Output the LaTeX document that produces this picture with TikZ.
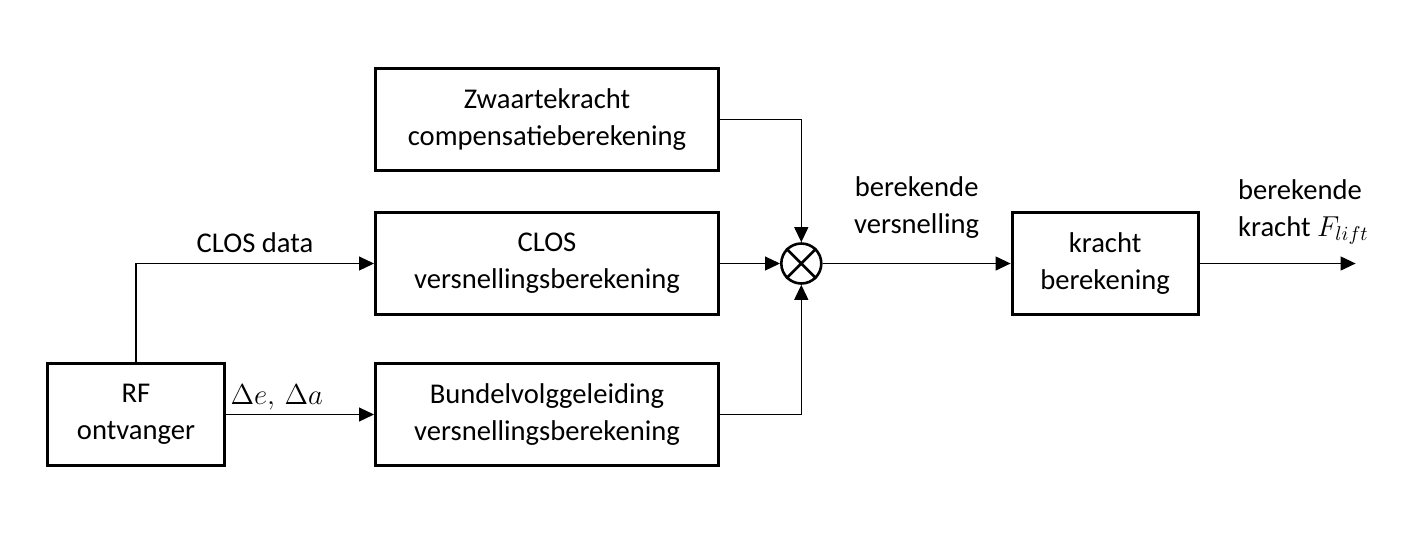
\documentclass[tikz,border=0pt]{standalone}
\usepackage{amsmath}
\usepackage{fontspec}
\setmainfont{Carlito}
\usepackage{tikz}
\usetikzlibrary{arrows.meta,positioning}

\tikzset{
	blok/.style={draw,line width=1.5pt,minimum width=171.5pt,minimum height=51pt,align=center},
	som/.style={draw,circle,line width=1.3pt,minimum size=20pt,inner sep=0pt},
	lijn/.style={-{Triangle[length=7.5pt,width=7pt]},line width=0.6pt}
}

\begin{document}
\begin{tikzpicture}[x=0.5pt,y=-0.5pt,font=\fontsize{14.3pt}{18.5pt}\selectfont]
\useasboundingbox (0,0) rectangle (1409,548);
\node	[blok]	(clos)	at (547,263.5)	{CLOS\\versnellingsberekening};
\node	[blok]	(zw)	[above=19.5pt of clos]	{Zwaartekracht\\compensatieberekening};
\node	[blok]	(bundel)	[below=23pt of clos]	{Bundelvolggeleiding\\versnellingsberekening};
\node	[blok,minimum width=88.5pt]	(rf)	[left=74pt of bundel]	{RF\\ontvanger};
\node	[som]	(sum)	[right=30pt of clos]	{};
\node	[blok,minimum width=93pt]	(kracht)	[right=94pt of sum]	{kracht\\berekening};
\coordinate	[right=78pt of kracht.east]	(uit);

% kruis in de sommator
\draw	[line width=1.3pt]	(sum.north west) -- (sum.south east)
	(sum.north east) -- (sum.south west);

\draw	[lijn]	(rf.north) |- node	[pos=0.75,above=2pt]	{CLOS data}	(clos.west);
\draw	[lijn]	(rf.east) -- node	[pos=0,above right,inner sep=2pt]	{$\Delta e,\,\Delta a$}	(bundel.west);
\draw	[lijn]	(zw.east) -| (sum.north);
\draw	[lijn]	(clos.east) -- (sum.west);
\draw	[lijn]	(bundel.east) -| (sum.south);
\draw	[lijn]	(sum.east) -- node	[above=9pt,align=center]	{berekende\\versnelling}	(kracht.west);
\draw	[lijn]	(kracht.east) -- node	[pos=0.2,anchor=south west,yshift=6pt,align=left]	{berekende\\kracht $F_{lift}$}	(uit);
\end{tikzpicture}
\end{document}
